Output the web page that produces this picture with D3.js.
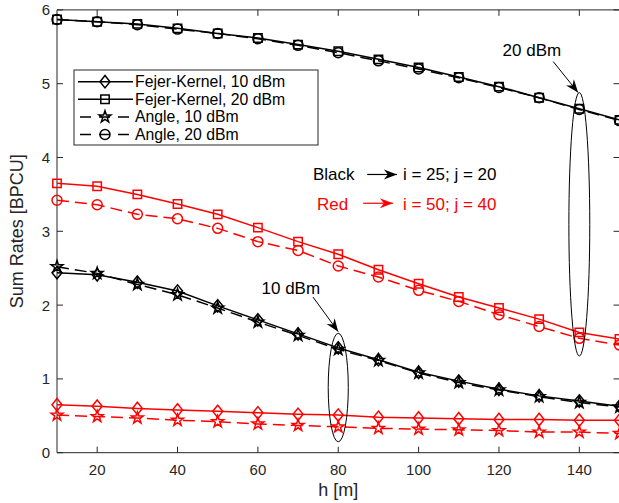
<!DOCTYPE html>
<html lang="en">
<head>
  <meta charset="UTF-8" />
  <title>Sum Rates vs h</title>
  <script src="https://d3js.org/d3.v7.min.js"></script>
  <style>
    body {
      margin: 0;
      background: white;
      font-family: "Liberation Sans", Arial, sans-serif;
    }
    .tick-label {
      font-size: 15px;
      fill: #262626;
    }
    .axis-label {
      font-size: 18px;
      fill: #262626;
    }
    .legend-text {
      font-size: 15.8px;
      fill: #000;
    }
    .note {
      font-size: 17px;
    }
  </style>
</head>
<body>
  <svg width="619" height="503"></svg>

  <script>
    // x values (h in metres)
    const hValues = [10, 20, 30, 40, 50, 60, 70, 80, 90, 100, 110, 120, 130, 140, 150];

    // black: i = 25; j = 20
    const fejer10Black = [2.44, 2.41, 2.31, 2.19, 1.99, 1.80, 1.61, 1.42, 1.26, 1.09, 0.97, 0.86, 0.77, 0.70, 0.63];
    const fejer20Black = [5.87, 5.84, 5.81, 5.75, 5.68, 5.62, 5.53, 5.44, 5.33, 5.22, 5.09, 4.96, 4.81, 4.66, 4.51];
    const angle10Black = [2.52, 2.43, 2.28, 2.14, 1.96, 1.77, 1.59, 1.40, 1.25, 1.08, 0.95, 0.85, 0.76, 0.68, 0.62];
    const angle20Black = [5.87, 5.84, 5.80, 5.74, 5.68, 5.61, 5.52, 5.42, 5.31, 5.20, 5.08, 4.95, 4.81, 4.65, 4.50];

    // red: i = 50; j = 40
    const fejer10Red = [0.65, 0.63, 0.60, 0.58, 0.56, 0.54, 0.52, 0.51, 0.48, 0.47, 0.46, 0.45, 0.45, 0.44, 0.44];
    const fejer20Red = [3.65, 3.61, 3.50, 3.37, 3.23, 3.05, 2.86, 2.69, 2.48, 2.29, 2.11, 1.96, 1.81, 1.63, 1.54];
    const angle10Red = [0.51, 0.49, 0.47, 0.44, 0.42, 0.39, 0.37, 0.35, 0.33, 0.32, 0.31, 0.30, 0.28, 0.28, 0.26];
    const angle20Red = [3.42, 3.36, 3.23, 3.17, 3.04, 2.86, 2.74, 2.53, 2.38, 2.20, 2.05, 1.87, 1.71, 1.55, 1.46];

    const xTicks = [20, 40, 60, 80, 100, 120, 140];
    const yTicks = [0, 1, 2, 3, 4, 5, 6];
    const legendLabels = ["Fejer-Kernel, 10 dBm", "Fejer-Kernel, 20 dBm", "Angle, 10 dBm", "Angle, 20 dBm"];

    const plotLeft = 57, plotRight = 619.5, plotTop = 9.9, plotBottom = 452.7;

    const x = d3.scaleLinear().domain([10, 150]).range([plotLeft, plotRight]);
    const y = d3.scaleLinear().domain([0, 6]).range([plotBottom, plotTop]);

    const svg = d3.select("svg");
    const axisColor = "#262626";

    // marker shapes
    function markerPath(type) {
      if (type === "diamond") return "M0,-6.2L5,0L0,6.2L-5,0Z";
      if (type === "square") return "M-4.2,-4.2H4.2V4.2H-4.2Z";
      if (type === "circle") return "M5,0A5,5 0 1,1 -5,0A5,5 0 1,1 5,0Z";
      // pentagram
      const pts = [];
      for (let k = 0; k < 10; k++) {
        const r = k % 2 === 0 ? 6.2 : 2.4;
        const a = -Math.PI / 2 + k * Math.PI / 5;
        pts.push([r * Math.cos(a), r * Math.sin(a)]);
      }
      return "M" + pts.map(p => p.join(",")).join("L") + "Z";
    }

    const series = [
      { values: fejer10Red, color: "#ff0000", dash: null, marker: "diamond" },
      { values: angle10Red, color: "#ff0000", dash: "12,6", marker: "star" },
      { values: fejer20Red, color: "#ff0000", dash: null, marker: "square" },
      { values: angle20Red, color: "#ff0000", dash: "12,6", marker: "circle" },
      { values: fejer10Black, color: "#000", dash: null, marker: "diamond" },
      { values: angle10Black, color: "#000", dash: "12,6", marker: "star" },
      { values: fejer20Black, color: "#000", dash: null, marker: "square" },
      { values: angle20Black, color: "#000", dash: "12,6", marker: "circle" },
    ];

    const line = d3.line()
      .x((d, i) => x(hValues[i]))
      .y(d => y(d));

    // axes box
    svg.append("line").attr("x1", plotLeft).attr("x2", plotLeft).attr("y1", plotTop).attr("y2", plotBottom)
      .attr("stroke", axisColor);
    svg.append("line").attr("x1", plotLeft).attr("x2", plotRight).attr("y1", plotBottom).attr("y2", plotBottom)
      .attr("stroke", axisColor);
    svg.append("line").attr("x1", plotLeft).attr("x2", plotRight).attr("y1", plotTop).attr("y2", plotTop)
      .attr("stroke", axisColor);
    svg.append("line").attr("x1", plotRight).attr("x2", plotRight).attr("y1", plotTop).attr("y2", plotBottom)
      .attr("stroke", axisColor);

    xTicks.forEach(t => {
      svg.append("line").attr("x1", x(t)).attr("x2", x(t)).attr("y1", plotBottom).attr("y2", plotBottom - 6)
        .attr("stroke", axisColor);
      svg.append("line").attr("x1", x(t)).attr("x2", x(t)).attr("y1", plotTop).attr("y2", plotTop + 6)
        .attr("stroke", axisColor);
      svg.append("text").attr("class", "tick-label")
        .attr("x", x(t)).attr("y", plotBottom + 22.5)
        .attr("text-anchor", "middle")
        .text(t);
    });

    yTicks.forEach(t => {
      svg.append("line").attr("x1", plotLeft).attr("x2", plotLeft + 6).attr("y1", y(t)).attr("y2", y(t))
        .attr("stroke", axisColor);
      svg.append("line").attr("x1", plotRight).attr("x2", plotRight - 6).attr("y1", y(t)).attr("y2", y(t))
        .attr("stroke", axisColor);
      svg.append("text").attr("class", "tick-label")
        .attr("x", plotLeft - 7).attr("y", y(t) + 5.5)
        .attr("text-anchor", "end")
        .text(t);
    });

    svg.append("text").attr("class", "axis-label")
      .attr("x", (plotLeft + plotRight) / 2).attr("y", 496)
      .attr("text-anchor", "middle")
      .text("h [m]");

    svg.append("text").attr("class", "axis-label")
      .attr("transform", `translate(23,${(plotTop + plotBottom) / 2}) rotate(-90)`)
      .attr("text-anchor", "middle")
      .text("Sum Rates [BPCU]");

    // series
    series.forEach(s => {
      svg.append("path")
        .attr("d", line(s.values))
        .attr("fill", "none")
        .attr("stroke", s.color)
        .attr("stroke-width", 1.5)
        .attr("stroke-dasharray", s.dash);

      svg.selectAll(null)
        .data(s.values)
        .enter()
        .append("path")
        .attr("d", markerPath(s.marker))
        .attr("transform", (d, i) => `translate(${x(hValues[i])},${y(d)})`)
        .attr("fill", "none")
        .attr("stroke", s.color)
        .attr("stroke-width", 1.5);
    });

    // annotations (data coordinates)
    const arrowHead = "M0,0L-13,-5L-9,0L-13,5Z";
    function arrow(x1, y1, x2, y2, color, width) {
      const px1 = x(x1), py1 = y(y1), px2 = x(x2), py2 = y(y2);
      const ang = Math.atan2(py2 - py1, px2 - px1) * 180 / Math.PI;
      svg.append("line")
        .attr("x1", px1).attr("y1", py1).attr("x2", px2).attr("y2", py2)
        .attr("stroke", color).attr("stroke-width", width);
      svg.append("path")
        .attr("d", arrowHead)
        .attr("transform", `translate(${px2},${py2}) rotate(${ang})`)
        .attr("fill", color);
    }

    // ellipses around 10 dBm at h = 80 and 20 dBm at h = 140
    const ellipses = [
      { cx: 80, cy: 0.883, rx: 2.5, ry: 0.735 },
      { cx: 140, cy: 3.095, rx: 2.6, ry: 1.785 },
    ];
    ellipses.forEach(e => {
      svg.append("ellipse")
        .attr("cx", x(e.cx)).attr("cy", y(e.cy))
        .attr("rx", x(e.cx + e.rx) - x(e.cx))
        .attr("ry", y(e.cy - e.ry) - y(e.cy))
        .attr("fill", "none")
        .attr("stroke", "#000")
        .attr("stroke-width", 1);
    });

    arrow(73.7, 2.11, 80.0, 1.64, "#000", 1);
    svg.append("text").attr("class", "note")
      .attr("x", x(68.2)).attr("y", y(2.23) + 6)
      .attr("text-anchor", "middle").attr("fill", "#000")
      .text("10 dBm");

    arrow(133.5, 5.30, 139.7, 4.88, "#000", 1);
    svg.append("text").attr("class", "note")
      .attr("x", x(128.2)).attr("y", y(5.46) + 6)
      .attr("text-anchor", "middle").attr("fill", "#000")
      .text("20 dBm");

    svg.append("text").attr("class", "note")
      .attr("x", x(73.7)).attr("y", y(3.70)).attr("fill", "#000")
      .text("Black");
    arrow(87.2, 3.77, 94.6, 3.77, "#000", 1.2);
    svg.append("text").attr("class", "note")
      .attr("x", x(96.1)).attr("y", y(3.70)).attr("fill", "#000")
      .text("i = 25; j = 20");

    svg.append("text").attr("class", "note")
      .attr("x", x(74.7)).attr("y", y(3.29)).attr("fill", "#ff0000")
      .text("Red");
    arrow(86.2, 3.38, 93.6, 3.38, "#ff0000", 1.2);
    svg.append("text").attr("class", "note")
      .attr("x", x(96.1)).attr("y", y(3.29)).attr("fill", "#ff0000")
      .text("i = 50; j = 40");

    // legend
    const legend = svg.append("g").attr("transform", "translate(74,70)");
    legend.append("rect")
      .attr("width", 244).attr("height", 75)
      .attr("fill", "white")
      .attr("stroke", axisColor)
      .attr("stroke-width", 1);

    const legendItems = [
      { label: legendLabels[0], dash: null, marker: "diamond" },
      { label: legendLabels[1], dash: null, marker: "square" },
      { label: legendLabels[2], dash: "12,6", marker: "star" },
      { label: legendLabels[3], dash: "12,6", marker: "circle" },
    ];
    legendItems.forEach((d, i) => {
      const ry = 11.7 + i * 17.6;
      legend.append("line")
        .attr("x1", 4).attr("x2", 59).attr("y1", ry).attr("y2", ry)
        .attr("stroke", "#000").attr("stroke-width", 1.5)
        .attr("stroke-dasharray", d.dash ? "11,8" : null)
        .attr("stroke-dashoffset", d.dash ? -2 : null);
      legend.append("path")
        .attr("d", markerPath(d.marker))
        .attr("transform", `translate(31,${ry})`)
        .attr("fill", "none")
        .attr("stroke", "#000").attr("stroke-width", 1.5);
      legend.append("text").attr("class", "legend-text")
        .attr("x", 61).attr("y", ry + 5.5)
        .text(d.label);
    });
  </script>
</body>
</html>
